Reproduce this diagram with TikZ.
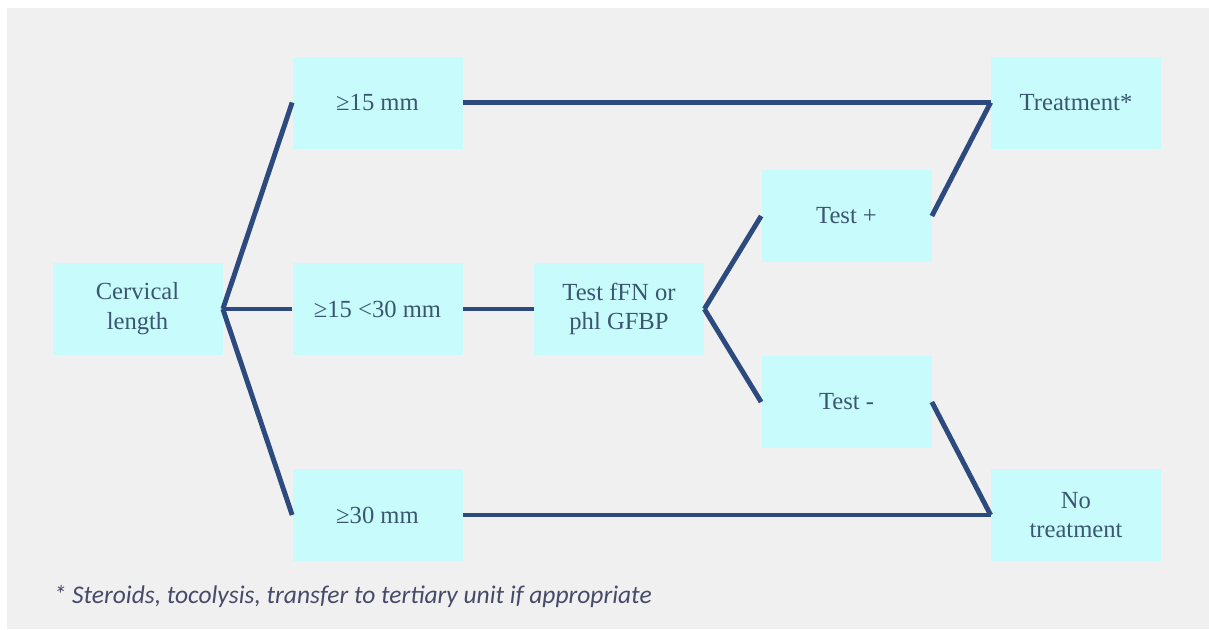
\documentclass[tikz,border=0pt]{standalone}
\usepackage{fontspec}
\setmainfont{Liberation Serif}
\newfontfamily\notefont{Carlito}
\definecolor{panelgrey}{HTML}{F0F0F0}
\definecolor{boxcyan}{HTML}{C8FCFC}
\definecolor{linenavy}{HTML}{2C4A7E}
\definecolor{textslate}{HTML}{3A5670}
\definecolor{notegrey}{HTML}{474A68}
\begin{document}
\begin{tikzpicture}[node distance=2cm, auto]
    % Define styles for boxes and line
    \tikzstyle{box} = [rectangle, fill=boxcyan, text=textslate, minimum width=3.4cm, minimum height=1.84cm, align=center, font=\fontsize{14}{17}\selectfont]
    \tikzstyle{branch} = [draw=linenavy, line width=2.8pt]

    % Page and panel
    \fill[white] (0,0) rectangle (24.18,-12.58);
    \useasboundingbox (0,0) rectangle (24.18,-12.58);
    \fill[panelgrey] (0.14,-0.16) rectangle (24.18,-12.58);

    % Place nodes
    \node [box] (cervical) at (2.75,-6.18) {Cervical\\length};
    \node [box, right of=cervical, node distance=4.8cm] (mid_range) {≥15 <30 mm};
    \node [box, above of=mid_range, node distance=4.13cm] (low_range) {≥15 mm};
    \node [box, below of=mid_range, node distance=4.12cm] (high_range) {≥30 mm};
    \node [box, right of=mid_range, node distance=4.83cm] (test_fn) {Test fFN or\\phl GFBP};
    \node [box, right of=test_fn, node distance=4.55cm, yshift=1.86cm] (test_pos) {Test +};
    \node [box, right of=test_fn, node distance=4.55cm, yshift=-1.86cm] (test_neg) {Test -};
    \node [box, right of=low_range, node distance=13.97cm] (treat) {Treatment*};
    \node [box, right of=high_range, node distance=13.97cm] (no_treat) {No\\treatment};
    \node [anchor=west, text=notegrey, font=\notefont\itshape\fontsize{14.5}{17}\selectfont] (note) at (0.95,-11.94) {* Steroids, tocolysis, transfer to tertiary unit if appropriate};

    % Draw edges
    \path [branch] (cervical.east) -- (low_range.west);
    \path [branch] (cervical.east) -- (mid_range.west);
    \path [branch] (cervical.east) -- (high_range.west);
    \path [branch] (low_range) -- (treat.west);
    \path [branch] (mid_range) -- (test_fn);
    \path [branch] (test_fn.east) -- (test_pos.west);
    \path [branch] (test_fn.east) -- (test_neg.west);
    \path [branch] (test_pos.east) -- (treat.west);
    \path [branch] (test_neg.east) -- (no_treat.west);
    \path [branch] (high_range.east) -- (no_treat.west);
\end{tikzpicture}
\end{document}
